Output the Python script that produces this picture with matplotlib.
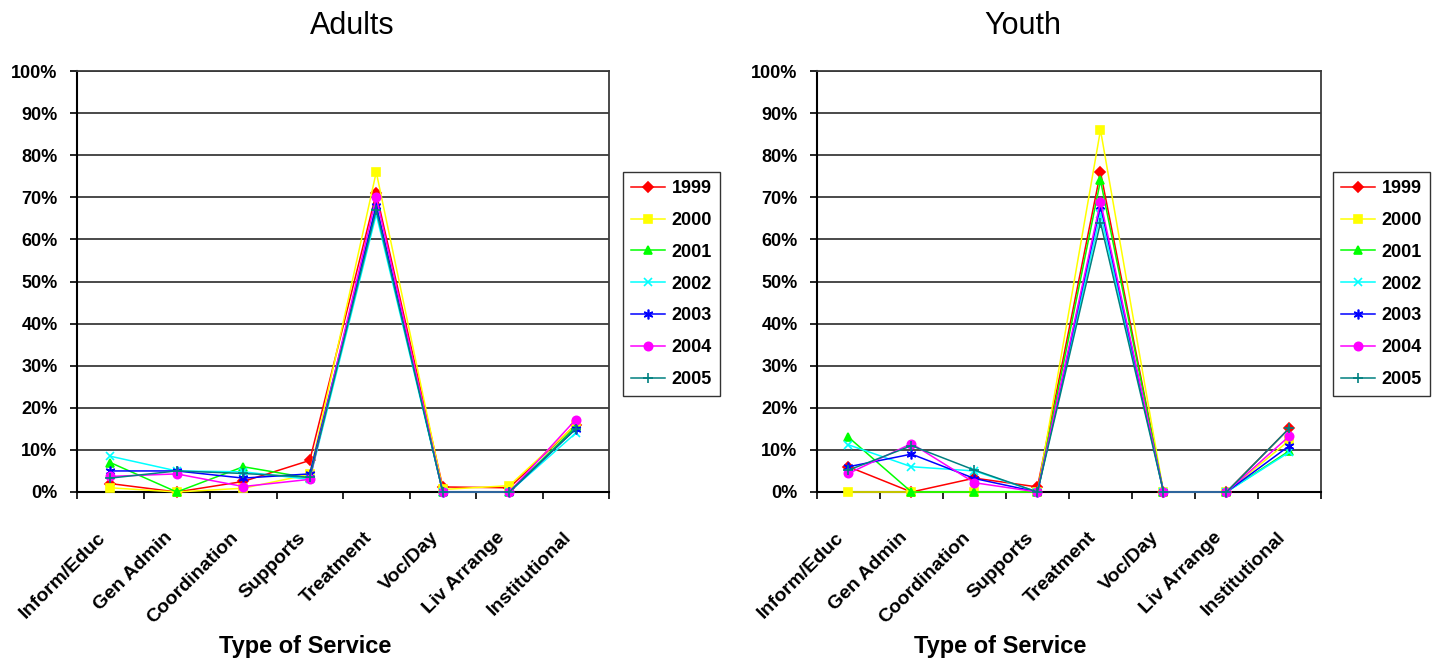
import matplotlib
matplotlib.use("Agg")
import matplotlib.pyplot as plt
import numpy as np
from matplotlib.ticker import FixedLocator, PercentFormatter
from matplotlib.transforms import ScaledTranslation

plt.rcParams['font.family'] = ['Liberation Sans', 'DejaVu Sans']

categories = ["Inform/Educ", "Gen Admin", "Coordination", "Supports",
              "Treatment", "Voc/Day", "Liv Arrange", "Institutional"]
years = ["1999", "2000", "2001", "2002", "2003", "2004", "2005"]

# Share of spending by type of service (percent)
adults_1999 = [2.0, 0.0, 2.5, 7.5, 71.0, 1.2, 1.0, 16.0]
adults_2000 = [1.0, 0.0, 0.9, 4.2, 76.0, 0.6, 1.5, 16.0]
adults_2001 = [7.0, 0.0, 6.0, 3.3, 68.0, 0.0, 0.0, 15.5]
adults_2002 = [8.5, 5.0, 4.8, 3.0, 66.0, 0.0, 0.0, 14.0]
adults_2003 = [5.0, 5.0, 3.3, 4.3, 68.0, 0.0, 0.0, 15.0]
adults_2004 = [3.7, 4.3, 1.3, 3.0, 70.0, 0.0, 0.0, 17.2]
adults_2005 = [3.3, 5.0, 4.4, 3.5, 67.0, 0.0, 0.0, 15.0]

youth_1999 = [6.0, 0.0, 3.3, 1.2, 76.0, 0.0, 0.0, 15.2]
youth_2000 = [0.0, 0.0, 0.0, 0.0, 86.0, 0.0, 0.0, 12.3]
youth_2001 = [13.0, 0.0, 0.0, 0.0, 74.0, 0.0, 0.0, 9.8]
youth_2002 = [11.2, 6.0, 5.0, 0.0, 66.0, 0.0, 0.0, 9.5]
youth_2003 = [6.0, 9.0, 3.2, 0.0, 68.0, 0.0, 0.0, 11.0]
youth_2004 = [4.4, 11.5, 2.2, 0.0, 69.0, 0.0, 0.0, 13.3]
youth_2005 = [5.2, 11.0, 5.2, 0.0, 64.0, 0.0, 0.0, 15.2]

adults = [adults_1999, adults_2000, adults_2001, adults_2002,
          adults_2003, adults_2004, adults_2005]
youth = [youth_1999, youth_2000, youth_2001, youth_2002,
         youth_2003, youth_2004, youth_2005]

colors = ["#FF0000", "#FFFF00", "#00FF00", "#00FFFF", "#0000FF", "#FF00FF", "#008080"]
markers = ["D", "s", "^", "x", (6, 2, 0), "o", "+"]
msizes = [5, 5.5, 6, 6, 7, 6, 7]

W, H = 1434, 660
fig = plt.figure(figsize=(W / 100, H / 100), dpi=100)


def px_axes(x0, x1, y_top, y_bot):
    return fig.add_axes([x0 / W, 1 - y_bot / H, (x1 - x0) / W, (y_bot - y_top) / H])


def draw_panel(ax, data, legend_xy):
    x = np.arange(len(categories))
    for i, series in enumerate(data):
        ax.plot(x, series, color=colors[i], lw=1.1, marker=markers[i],
                ms=msizes[i], mec=colors[i], mew=1.2, label=years[i],
                zorder=3 + i, clip_on=False)
    ax.set_xlim(-0.5, len(categories) - 0.5)
    ax.set_ylim(0, 100)
    ax.set_yticks(np.arange(0, 101, 10))
    ax.yaxis.set_major_formatter(PercentFormatter(decimals=0))
    ax.grid(axis='y', color='#3a3a3a', lw=1.3, zorder=1)
    ax.set_axisbelow(True)

    # category names sit below the axis, slanted, ending near each category centre
    ax.set_xticks(x)
    ax.set_xticklabels([])
    ax.tick_params(axis='x', which='major', length=0)
    label_tr = ax.get_xaxis_transform() + ScaledTranslation(-13 / 100, -37 / 100,
                                                           fig.dpi_scale_trans)
    for xi, name in zip(x, categories):
        ax.text(xi, 0, name, transform=label_tr, rotation=45, ha='right', va='top',
                rotation_mode='anchor', fontsize=14, fontweight='bold')

    ax.xaxis.set_minor_locator(FixedLocator(np.arange(-0.5, len(categories), 1.0)))
    ax.tick_params(axis='x', which='minor', length=5, width=1.2, direction='out')
    ax.tick_params(axis='y', length=5, width=1.2, direction='out', pad=9)
    for lab in ax.get_yticklabels():
        lab.set_fontsize(13)
        lab.set_fontweight('bold')
    for sp in ax.spines.values():
        sp.set_linewidth(1.5)
        sp.set_color('black')
    ax.spines['top'].set_color('#3a3a3a')
    ax.spines['right'].set_color('#3a3a3a')
    ax.spines['right'].set_linewidth(1.3)
    ax.spines['top'].set_linewidth(1.3)
    leg = ax.legend(loc='upper left', bbox_to_anchor=(legend_xy[0] / W, 1 - legend_xy[1] / H),
                    bbox_transform=fig.transFigure, frameon=True, fancybox=False,
                    edgecolor='black', prop={'weight': 'bold', 'size': 13},
                    handlelength=1.85, handletextpad=0.4, labelspacing=0.82,
                    borderpad=0.45, borderaxespad=0)
    leg.get_frame().set_linewidth(1.0)


ax1 = px_axes(77, 609, 71, 492)
draw_panel(ax1, adults, (623, 172))
ax2 = px_axes(817, 1321, 71, 492)
draw_panel(ax2, youth, (1333, 172))

fig.text(352 / W, 1 - 26 / H, "Adults", ha='center', va='center', fontsize=22)
fig.text(1023 / W, 1 - 26 / H, "Youth", ha='center', va='center', fontsize=22)
fig.text(305 / W, 1 - 646 / H, "Type of Service", ha='center', va='center',
         fontsize=17, fontweight='bold')
fig.text(1000 / W, 1 - 646 / H, "Type of Service", ha='center', va='center',
         fontsize=17, fontweight='bold')

fig.savefig("out.png", dpi=100)
